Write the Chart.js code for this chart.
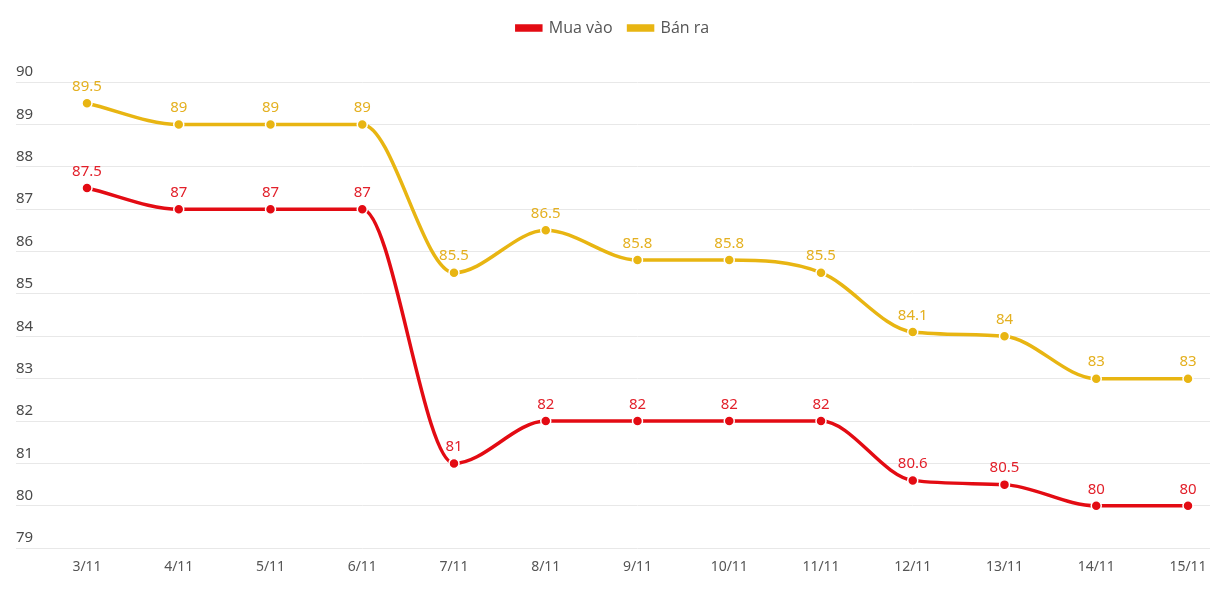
<!DOCTYPE html>
<html><head><meta charset="utf-8">
<script src="https://cdn.jsdelivr.net/npm/chart.js@4"></script>
<style>html,body{margin:0;padding:0;background:#fff}#wrap{width:1222px;height:593px}</style>
</head><body><div id="wrap"><canvas id="c"></canvas></div>
<script>
const categories = ["3/11","4/11","5/11","6/11","7/11","8/11","9/11","10/11","11/11","12/11","13/11","14/11","15/11"];
const muaVao = [87.5,87,87,87,81,82,82,82,82,80.6,80.5,80,80];
const banRa = [89.5,89,89,89,85.5,86.5,85.8,85.8,85.5,84.1,84,83,83];
const seriesNames = ["Mua vào","Bán ra"];
const RED = "#e30b13", YEL = "#e8b512";
const LRED = "#e2202a", LYEL = "#e4b020";

const labelPlugin = {
  id: 'vals',
  afterDatasetsDraw(chart){
    const ctx = chart.ctx;
    ctx.save();
    ctx.font = '15px "Noto Sans", sans-serif';
    ctx.textAlign = 'center';
    ctx.textBaseline = 'bottom';
    chart.data.datasets.forEach((ds, di) => {
      const meta = chart.getDatasetMeta(di);
      ctx.fillStyle = ds.labelColor;
      meta.data.forEach((pt, i) => {
        ctx.fillText(String(ds.data[i]), pt.x, pt.y - 9);
      });
    });
    ctx.restore();
  }
};
const legendGap = {
  id: 'legendGap',
  beforeInit(chart){
    const fit = chart.legend.fit;
    chart.legend.fit = function(){ fit.bind(chart.legend)(); this.height += 36; };
  }
};

new Chart(document.getElementById('c'), {
  type: 'line',
  data: {
    labels: categories,
    datasets: [
      {label: seriesNames[0], data: muaVao, borderColor: RED, backgroundColor: RED, labelColor: LRED,
       borderWidth: 3.5, pointRadius: 5, pointHoverRadius: 5, pointBackgroundColor: RED, pointBorderColor: '#fff', pointBorderWidth: 1.5,
       cubicInterpolationMode: 'monotone', yAxisID: 'y'},
      {label: seriesNames[1], data: banRa, borderColor: YEL, backgroundColor: YEL, labelColor: LYEL,
       borderWidth: 3.5, pointRadius: 5, pointHoverRadius: 5, pointBackgroundColor: YEL, pointBorderColor: '#fff', pointBorderWidth: 1.5,
       cubicInterpolationMode: 'monotone', yAxisID: 'y'}
    ]
  },
  options: {
    responsive: true, maintainAspectRatio: false, animation: false,
    layout: {padding: {left: 16, right: 12, top: 4, bottom: 8}},
    plugins: {
      legend: {
        position: 'top',
        labels: {boxWidth: 24, boxHeight: 4, padding: 16, color: '#555', font: {size: 16, family: '"Open Sans", sans-serif'}}
      },
      tooltip: {enabled: false}
    },
    scales: {
      x: {
        offset: false,
        grid: {display: false, drawTicks: false},
        border: {display: false},
        ticks: {color: '#555', padding: 10, font: {size: 14, family: '"Noto Sans", sans-serif'}}
      },
      y: {
        position: 'left', min: 79, max: 90,
        grid: {color: '#e8e8e8', lineWidth: 1, tickLength: 71, tickColor: '#e8e8e8'},
        border: {display: false},
        ticks: {stepSize: 1, crossAlign: 'far', labelOffset: -10, padding: 0, color: '#4a4a4a', font: {size: 15, family: '"Noto Sans", sans-serif'}},
        afterFit(s){ s.width = 71; }
      },
      y2: {
        position: 'right', min: 79, max: 90,
        grid: {drawOnChartArea: false, color: '#e8e8e8', tickLength: 22, tickColor: '#e8e8e8'},
        border: {display: false},
        ticks: {stepSize: 1, display: false},
        afterFit(s){ s.width = 22; }
      }
    }
  },
  plugins: [labelPlugin, legendGap]
});
</script></body></html>
